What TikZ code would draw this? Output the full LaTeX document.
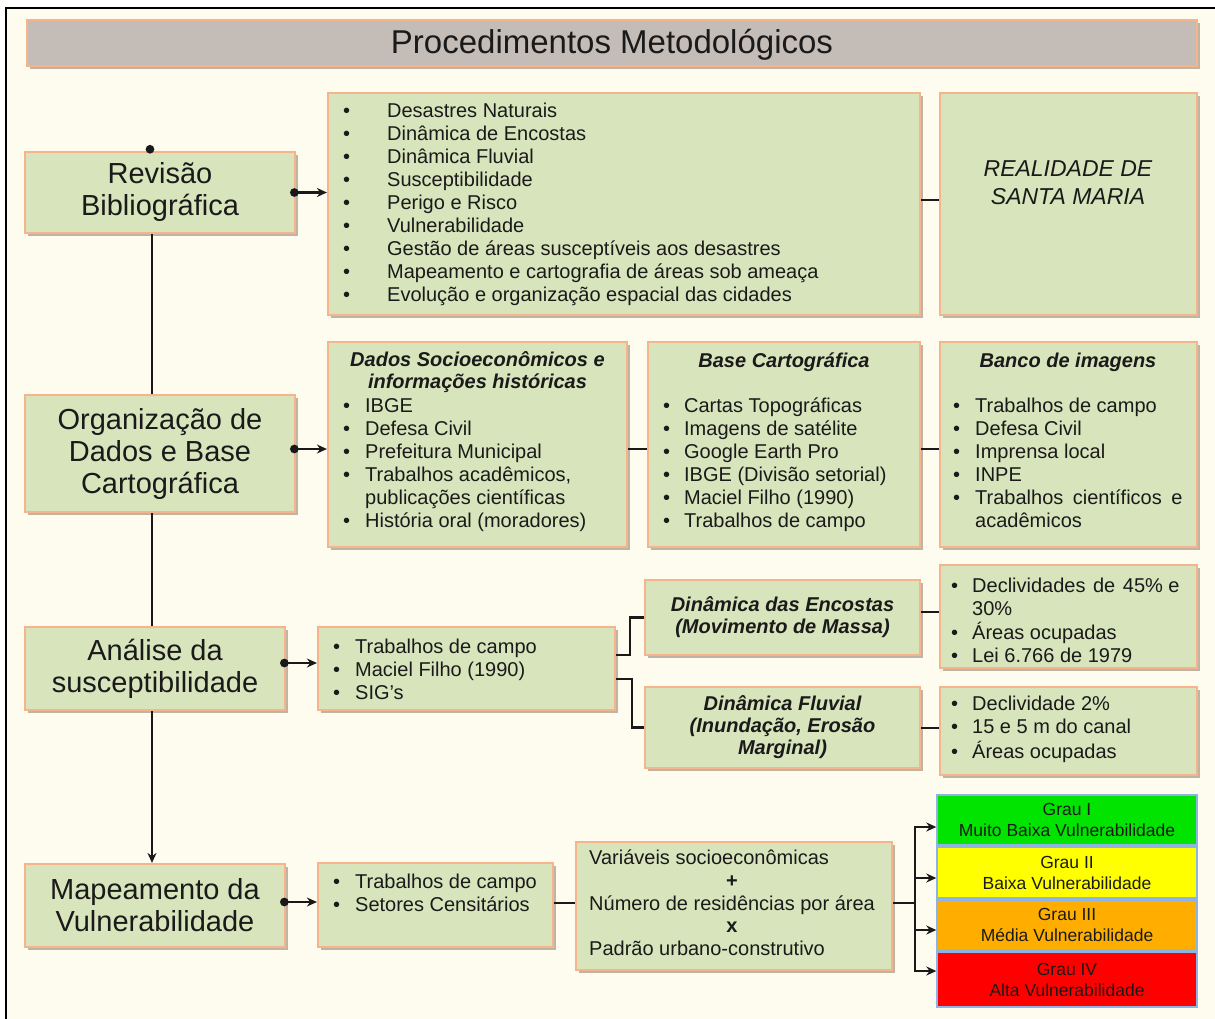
\documentclass[tikz,border=0pt]{standalone}
\usepackage{fontspec}
\setmainfont{Liberation Sans}
\usetikzlibrary{arrows.meta,shadows,calc}
\definecolor{cream}{HTML}{FEFBEF}
\definecolor{boxfill}{HTML}{D8E4BC}
\definecolor{boxline}{HTML}{F6B48C}
\definecolor{titlefill}{HTML}{C4BDB7}
\definecolor{shadowc}{HTML}{8C7B66}
\definecolor{txt}{HTML}{1A1A1A}
\definecolor{gone}{HTML}{00E400}
\definecolor{gtwo}{HTML}{FFFF00}
\definecolor{gthree}{HTML}{FFAE00}
\definecolor{gfour}{HTML}{FF0000}
\definecolor{gline}{HTML}{8EB4E3}
\newcommand\FTitle{\fontsize{33}{38}\selectfont}
\newcommand\FBig{\fontsize{29}{32}\selectfont}
\newcommand\FList{\fontsize{20}{23}\selectfont}
\newcommand\FHead{\fontsize{20}{22}\selectfont\bfseries\itshape}
\newcommand\FGrau{\fontsize{17.5}{21}\selectfont}
\newcommand\blist[2]{\begin{tabular}{@{}p{#1}@{}l@{}}#2\end{tabular}}
\newcommand\bu{\textbullet}
\begin{document}
\begin{tikzpicture}[x=1pt,y=-1pt,
  gbox/.style={draw=boxline, line width=2.2pt, fill=boxfill, inner sep=0pt,
    drop shadow={shadow xshift=2.5pt, shadow yshift=-3pt, fill=shadowc, opacity=.55},
    text=txt, align=center},
  grau/.style={draw=gline, line width=1.4pt, inner sep=0pt, minimum width=260, text=txt,
    align=center, font=\FGrau},
  txtnode/.style={inner sep=0pt, text=txt},
  conn/.style={line width=2.6pt, draw=black!90},
  arr/.style={conn, {Circle[length=8.5pt]}-{Stealth[length=10pt,width=9pt]}},
  plain/.style={conn, -{Stealth[length=10pt,width=9pt]}}]
\useasboundingbox (0,0) rectangle (1215,1019);
\fill[white] (0,0) rectangle (1215,1019);
\fill[cream] (6,8) rectangle (1215,1019);
\draw[line width=1.8pt] (6,1019) -- (6,8) -- (1215,8);

% title
\node[gbox, fill=titlefill, minimum width=1170, minimum height=46] (title) at (612,43) {};
\node[txtnode, font=\FTitle] (titlet) at (612,45) {Procedimentos Metodológicos};

% left column
\node[gbox, minimum width=270, minimum height=81, font=\FBig] (rev) at (160,192.5) {Revisão\\Bibliográfica};
\node[gbox, minimum width=270, minimum height=117, font=\FBig] (org) at (160,453.5) {Organização de\\Dados e Base\\Cartográfica};
\node[gbox, minimum width=260, minimum height=83, font=\FBig] (ana) at (155,668.5) {Análise da\\susceptibilidade};
\node[gbox, minimum width=260, minimum height=83, font=\FBig] (map) at (155,905.5) {Mapeamento da\\Vulnerabilidade};

% row 1
\node[gbox, minimum width=592, minimum height=222] (lb1) at (624,204) {};
\node[txtnode, anchor=west, font=\FList] (lt1) at (343,204.5) {\blist{44pt}{%
\bu & Desastres Naturais\\
\bu & Dinâmica de Encostas\\
\bu & Dinâmica Fluvial\\
\bu & Susceptibilidade\\
\bu & Perigo e Risco\\
\bu & Vulnerabilidade\\
\bu & Gestão de áreas susceptíveis aos desastres\\
\bu & Mapeamento e cartografia de áreas sob ameaça\\
\bu & Evolução e organização espacial das cidades}};
\node[gbox, minimum width=257, minimum height=222] (real) at (1068.5,204) {};
\node[txtnode, align=center, font=\fontsize{23}{28}\selectfont\itshape] (realt) at (1068,183) {REALIDADE DE\\SANTA MARIA};

% row 2
\node[gbox, minimum width=299, minimum height=205] (dados) at (477.5,444.5) {};
\node[txtnode, align=center, font=\FHead] (dadosh) at (477.5,372) {Dados Socioeconômicos e\\informações históricas};
\node[txtnode, anchor=west, font=\FList] (dadosl) at (343,465.5) {\blist{22pt}{%
\bu & IBGE\\
\bu & Defesa Civil\\
\bu & Prefeitura Municipal\\
\bu & Trabalhos acadêmicos,\\
 & publicações científicas\\
\bu & História oral (moradores)}};
\node[gbox, minimum width=272, minimum height=205] (base) at (784,444.5) {};
\node[txtnode, font=\FHead] (baseh) at (784,362) {Base Cartográfica};
\node[txtnode, anchor=west, font=\FList] (basel) at (663,465.5) {\blist{21pt}{%
\bu & Cartas Topográficas\\
\bu & Imagens de satélite\\
\bu & Google Earth Pro\\
\bu & IBGE (Divisão setorial)\\
\bu & Maciel Filho (1990)\\
\bu & Trabalhos de campo}};
\node[gbox, minimum width=257, minimum height=205] (banco) at (1068.5,444.5) {};
\node[txtnode, font=\FHead] (bancoh) at (1068,362) {Banco de imagens};
\node[txtnode, anchor=west, font=\FList] (bancol) at (953,465.5) {\blist{22pt}{%
\bu & Trabalhos de campo\\
\bu & Defesa Civil\\
\bu & Imprensa local\\
\bu & INPE\\
\bu & Trabalhos\hspace{0.2em} científicos\hspace{0.2em} e\\
 & acadêmicos}};

% row 3
\node[gbox, minimum width=297, minimum height=83] (tr3) at (466.5,668.5) {};
\node[txtnode, anchor=west, font=\FList] (tr3l) at (333,672) {\blist{22pt}{%
\bu & Trabalhos de campo\\
\bu & Maciel Filho (1990)\\
\bu & SIG’s}};
\node[gbox, minimum width=275, minimum height=75, font=\FHead] (enc) at (782.5,617.5) {Dinâmica das Encostas\\(Movimento de Massa)};
\node[gbox, minimum width=275, minimum height=81, font=\FHead] (flu) at (782.5,727.5) {Dinâmica Fluvial\\(Inundação, Erosão\\Marginal)};
\node[gbox, minimum width=257, minimum height=103] (decl) at (1068.5,616.5) {};
\node[txtnode, anchor=west, font=\FList] (decll) at (951,623) {\blist{21pt}{%
\bu & Declividades\hspace{0.1em} de\hspace{0.1em} 45\% e\\
 & 30\%\\
\bu & Áreas ocupadas\\
\bu & Lei 6.766 de 1979}};
\node[gbox, minimum width=257, minimum height=88] (dec2) at (1068.5,731) {};
\node[txtnode, anchor=west, font=\FList] (dec2l) at (951,730) {\blist{21pt}{%
\bu & Declividade 2\%\\
\bu & 15 e 5 m do canal\\
\bu & Áreas ocupadas}};

% row 4
\node[gbox, minimum width=235, minimum height=84] (tr4) at (435.5,905) {};
\node[txtnode, anchor=west, font=\FList] (tr4l) at (333,895) {\blist{22pt}{%
\bu & Trabalhos de campo\\
\bu & Setores Censitários}};
\node[gbox, minimum width=316, minimum height=128] (var) at (734,906) {};
\node[txtnode, anchor=west, font=\fontsize{20}{22.75}\selectfont] (varl) at (589,905.5) {\begin{tabular}{@{}l@{}}
Variáveis socioeconômicas\\
\multicolumn{1}{@{}c@{}}{\textbf{+}}\\
Número de residências por área\\
\multicolumn{1}{@{}c@{}}{\textbf{x}}\\
Padrão urbano-construtivo\end{tabular}};
\node[grau, fill=gone, minimum height=50] (g1) at (1067,820) {Grau I\\Muito Baixa Vulnerabilidade};
\node[grau, fill=gtwo, minimum height=51] (g2) at (1067,872.5) {Grau II\\Baixa Vulnerabilidade};
\node[grau, fill=gthree, minimum height=50] (g3) at (1067,925) {Grau III\\Média Vulnerabilidade};
\node[grau, fill=gfour, minimum height=55] (g4) at (1067,979.5) {Grau IV\\Alta Vulnerabilidade};

% connectors
\coordinate (spine) at (152,0);
\coordinate (topdot) at (150,145);
\draw[conn, {Circle[length=8.5pt]}-] (topdot) -- (rev.north -| topdot);
\draw[conn] (rev.south -| spine) -- (org.north -| spine);
\draw[conn] (org.south -| spine) -- (ana.north -| spine);
\draw[plain] (ana.south -| spine) -- (map.north -| spine);

\draw[arr] ([xshift=-6pt]rev.east) -- (lb1.west |- rev.east);
\draw[conn] (lb1.east |- 0,200) -- (real.west |- 0,200);

\draw[arr] ([xshift=-6pt]org.east |- 0,449) -- (dados.west |- 0,449);
\draw[conn] (dados.east |- 0,449) -- (base.west |- 0,449);
\draw[conn] (base.east |- 0,449) -- (banco.west |- 0,449);

\draw[arr] ([xshift=-6pt]ana.east |- 0,663) -- (tr3.west |- 0,663);
\coordinate (bra) at (630,655);
\coordinate (brb) at (632,679);
\draw[conn] (tr3.east |- bra) -- (bra) |- (enc.west);
\draw[conn] (tr3.east |- brb) -- (brb) |- (flu.west);
\draw[conn] (enc.east |- 0,612) -- (decl.west |- 0,612);
\draw[conn] (flu.east |- 0,728) -- (dec2.west |- 0,728);

\draw[arr] ([xshift=-6pt]map.east |- 0,902) -- (tr4.west |- 0,902);
\draw[conn] (tr4.east |- 0,903) -- (var.west |- 0,903);
\coordinate (br4) at (915,903);
\draw[conn] (var.east |- br4) -- (br4);
\draw[conn] (br4 |- 0,826) -- (br4 |- 0,972);
\draw[plain] (br4 |- 0,827) -- (g1.west |- 0,827);
\draw[plain] (br4 |- 0,878) -- (g2.west |- 0,878);
\draw[plain] (br4 |- 0,930) -- (g3.west |- 0,930);
\draw[plain] (br4 |- 0,971) -- (g4.west |- 0,971);
\end{tikzpicture}
\end{document}
